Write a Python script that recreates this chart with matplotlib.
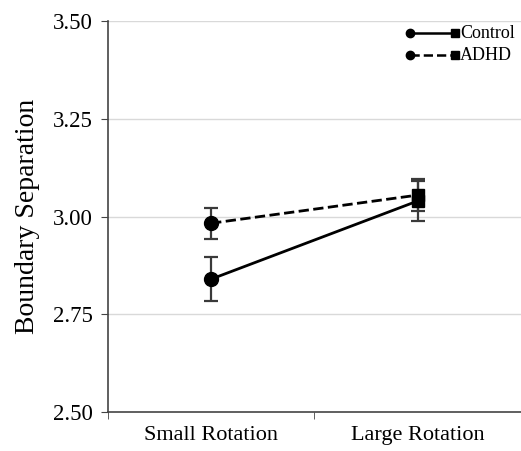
import matplotlib.pyplot as plt
import numpy as np

conditions = ["Small Rotation", "Large Rotation"]
groups = ["Control", "ADHD"]
control_mean = [2.84, 3.04]
control_err = [0.057, 0.05]
adhd_mean = [2.983, 3.055]
adhd_err = [0.04, 0.04]

plt.rcParams['font.family'] = ['Liberation Serif', 'DejaVu Serif']

fig = plt.figure(figsize=(5.21, 4.51), dpi=100)
ax = fig.add_axes([0.207, 0.0865, 0.793, 0.8665])

x = np.arange(len(conditions)) + 0.5
styles = {"Control": "-", "ADHD": "--"}
series = {"Control": (control_mean, control_err), "ADHD": (adhd_mean, adhd_err)}

for g in groups:
    m, e = series[g]
    ax.errorbar(x, m, yerr=e, fmt="none", ecolor="#3a3a3a", elinewidth=1.6,
                capsize=5, capthick=1.6, zorder=2)
    ax.plot(x, m, ls=styles[g], color="black", lw=2, zorder=3)
    ax.plot(x[0], m[0], "o", color="black", ms=10, zorder=4)
    ax.plot(x[1], m[1], "s", color="black", ms=9, zorder=4)

ax.set_xlim(0, 2)
ax.set_ylim(2.5, 3.5)
ax.set_yticks([2.5, 2.75, 3.0, 3.25, 3.5])
ax.set_yticklabels(["2.50", "2.75", "3.00", "3.25", "3.50"], fontsize=16.5)
ax.set_xticks(x)
ax.set_xticklabels(conditions, fontsize=16)
ax.set_xticks([0, 1, 2], minor=True)
ax.tick_params(axis="x", which="major", length=0, pad=10)
ax.tick_params(axis="x", which="minor", length=5, color="#444444")
ax.tick_params(axis="y", length=5, color="#444444", pad=6)
ax.set_ylabel("Boundary Separation", fontsize=20, labelpad=9)

for y in [2.75, 3.0, 3.25, 3.5]:
    ax.axhline(y, color="#d9d9d9", lw=1, zorder=0)

for s in ["top", "right"]:
    ax.spines[s].set_visible(False)
for s in ["left", "bottom"]:
    ax.spines[s].set_color("#444444")
    ax.spines[s].set_linewidth(1.2)

# legend drawn by hand: circle - line - square
for i, g in enumerate(groups):
    yy = 0.969 - i * 0.056
    ax.plot([0.731, 0.84], [yy, yy], ls=styles[g], color="black", lw=1.8,
            transform=ax.transAxes, clip_on=False)
    ax.plot(0.731, yy, "o", color="black", ms=6, transform=ax.transAxes, clip_on=False)
    ax.plot(0.84, yy, "s", color="black", ms=6, transform=ax.transAxes, clip_on=False)
    ax.text(0.853, yy, g, fontsize=13, va="center", ha="left", transform=ax.transAxes)

fig.savefig("out.png", dpi=100)
